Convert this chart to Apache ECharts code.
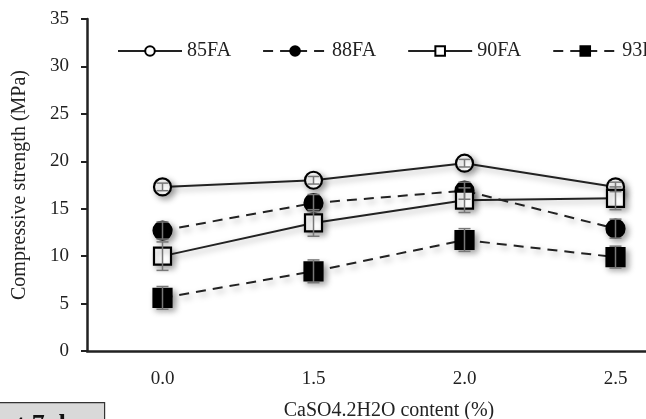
<!DOCTYPE html>
<html>
<head>
<meta charset="utf-8">
<script src="https://cdn.jsdelivr.net/npm/echarts@6/dist/echarts.min.js"></script>
<style>
  html, body { margin: 0; padding: 0; background: #fff; }
  #main { width: 646px; height: 419px; }
</style>
</head>
<body>
<div id="main"></div>
<script>
// gypsum content, % (category axis)
var categories = ['0.0', '1.5', '2.0', '2.5'];

// compressive strength, MPa
var fa85 = [17.3, 18.0, 19.8, 17.3];
var fa88 = [12.7, 15.6, 16.9, 12.9];
var fa90 = [10.0, 13.5, 15.9, 16.1];
var fa93 = [5.6, 8.4, 11.7, 9.9];

// error bar half widths
var err85 = [0.4, 0.4, 0.4, 0.5];
var err88 = [0.9, 0.9, 0.9, 1.0];
var err90 = [1.5, 1.4, 1.3, 1.2];
var err93 = [1.2, 1.2, 1.2, 1.15];

var yTicks = { min: 0, max: 35, interval: 5 };

var font = 'Liberation Serif';
var ink = '#222';
var shadow = { shadowColor: 'rgba(0,0,0,0.35)', shadowBlur: 6, shadowOffsetX: 3, shadowOffsetY: 3 };

function lineSeries(name, vals, dashed, symbol, filled, size) {
  return {
    name: name,
    type: 'line',
    data: vals,
    symbol: symbol,
    symbolSize: size,
    z: 3,
    lineStyle: Object.assign({ color: ink, width: 2, type: dashed ? [10, 7] : 'solid' }, shadow),
    itemStyle: Object.assign({ color: filled ? '#000' : '#fff', borderColor: '#000', borderWidth: 2.2 }, shadow),
    emphasis: { disabled: true }
  };
}

function errSeries(vals, errs) {
  var d = [];
  for (var i = 0; i < vals.length; i++) {
    d.push([i, vals[i] - errs[i], vals[i] + errs[i]]);
  }
  return {
    type: 'custom',
    z: 5,
    silent: true,
    data: d,
    renderItem: function (params, api) {
      var lo = api.coord([api.value(0), api.value(1)]);
      var hi = api.coord([api.value(0), api.value(2)]);
      var w = 6;
      var st = { stroke: '#777', lineWidth: 1.5 };
      return {
        type: 'group',
        children: [
          { type: 'line', shape: { x1: lo[0], y1: lo[1], x2: hi[0], y2: hi[1] }, style: st },
          { type: 'line', shape: { x1: lo[0] - w, y1: lo[1], x2: lo[0] + w, y2: lo[1] }, style: st },
          { type: 'line', shape: { x1: hi[0] - w, y1: hi[1], x2: hi[0] + w, y2: hi[1] }, style: st }
        ]
      };
    }
  };
}

var chart = echarts.init(document.getElementById('main'));
chart.setOption({
  animation: false,
  backgroundColor: '#fff',
  // plot is wider than the window, right end is cut off like in the original
  grid: { left: 87, width: 604, top: 19, bottom: 68, outerBoundsMode: 'none', containLabel: false },
  legend: {
    data: ['85FA', '88FA', '90FA', '93FA'],
    left: 112,
    top: 36,
    width: 700,
    itemWidth: 64,
    itemHeight: 12,
    itemGap: 31,
    textStyle: { fontFamily: font, fontSize: 20, color: ink }
  },
  xAxis: {
    type: 'category',
    data: categories,
    name: 'CaSO4.2H2O content (%)',
    nameLocation: 'middle',
    nameGap: 50,
    nameTextStyle: { fontFamily: font, fontSize: 20, color: ink },
    axisLine: { lineStyle: { color: ink, width: 2.5 } },
    axisTick: { alignWithLabel: true, length: 5, lineStyle: { color: ink, width: 2 } },
    axisLabel: { fontFamily: font, fontSize: 19, color: ink, margin: 19 },
    splitLine: { show: false }
  },
  yAxis: {
    type: 'value',
    min: yTicks.min,
    max: yTicks.max,
    interval: yTicks.interval,
    name: 'Compressive strength (MPa)',
    nameLocation: 'middle',
    nameGap: 57,
    nameTextStyle: { fontFamily: font, fontSize: 20, color: ink },
    axisLine: { show: true, lineStyle: { color: ink, width: 2.5 } },
    axisTick: { show: true, length: 6, lineStyle: { color: ink, width: 2 } },
    axisLabel: { fontFamily: font, fontSize: 19, color: ink, margin: 18 },
    splitLine: { show: false }
  },
  graphic: [
    {
      type: 'group',
      left: -5,
      top: 402,
      children: [
        { type: 'rect', shape: { x: 0, y: 0, width: 109, height: 40 }, style: { fill: '#d9d9d9', stroke: '#333', lineWidth: 1.2 } },
        { type: 'text', x: 8, y: 10, style: { text: 'at 7 days', font: 'bold 26px "Liberation Serif"', fill: '#111' } }
      ]
    }
  ],
  series: [
    lineSeries('85FA', fa85, false, 'circle', false, 17),
    lineSeries('88FA', fa88, true, 'circle', true, 18),
    lineSeries('90FA', fa90, false, 'rect', false, 17),
    lineSeries('93FA', fa93, true, 'rect', true, 18),
    errSeries(fa85, err85),
    errSeries(fa88, err88),
    errSeries(fa90, err90),
    errSeries(fa93, err93)
  ]
});
</script>
</body>
</html>
